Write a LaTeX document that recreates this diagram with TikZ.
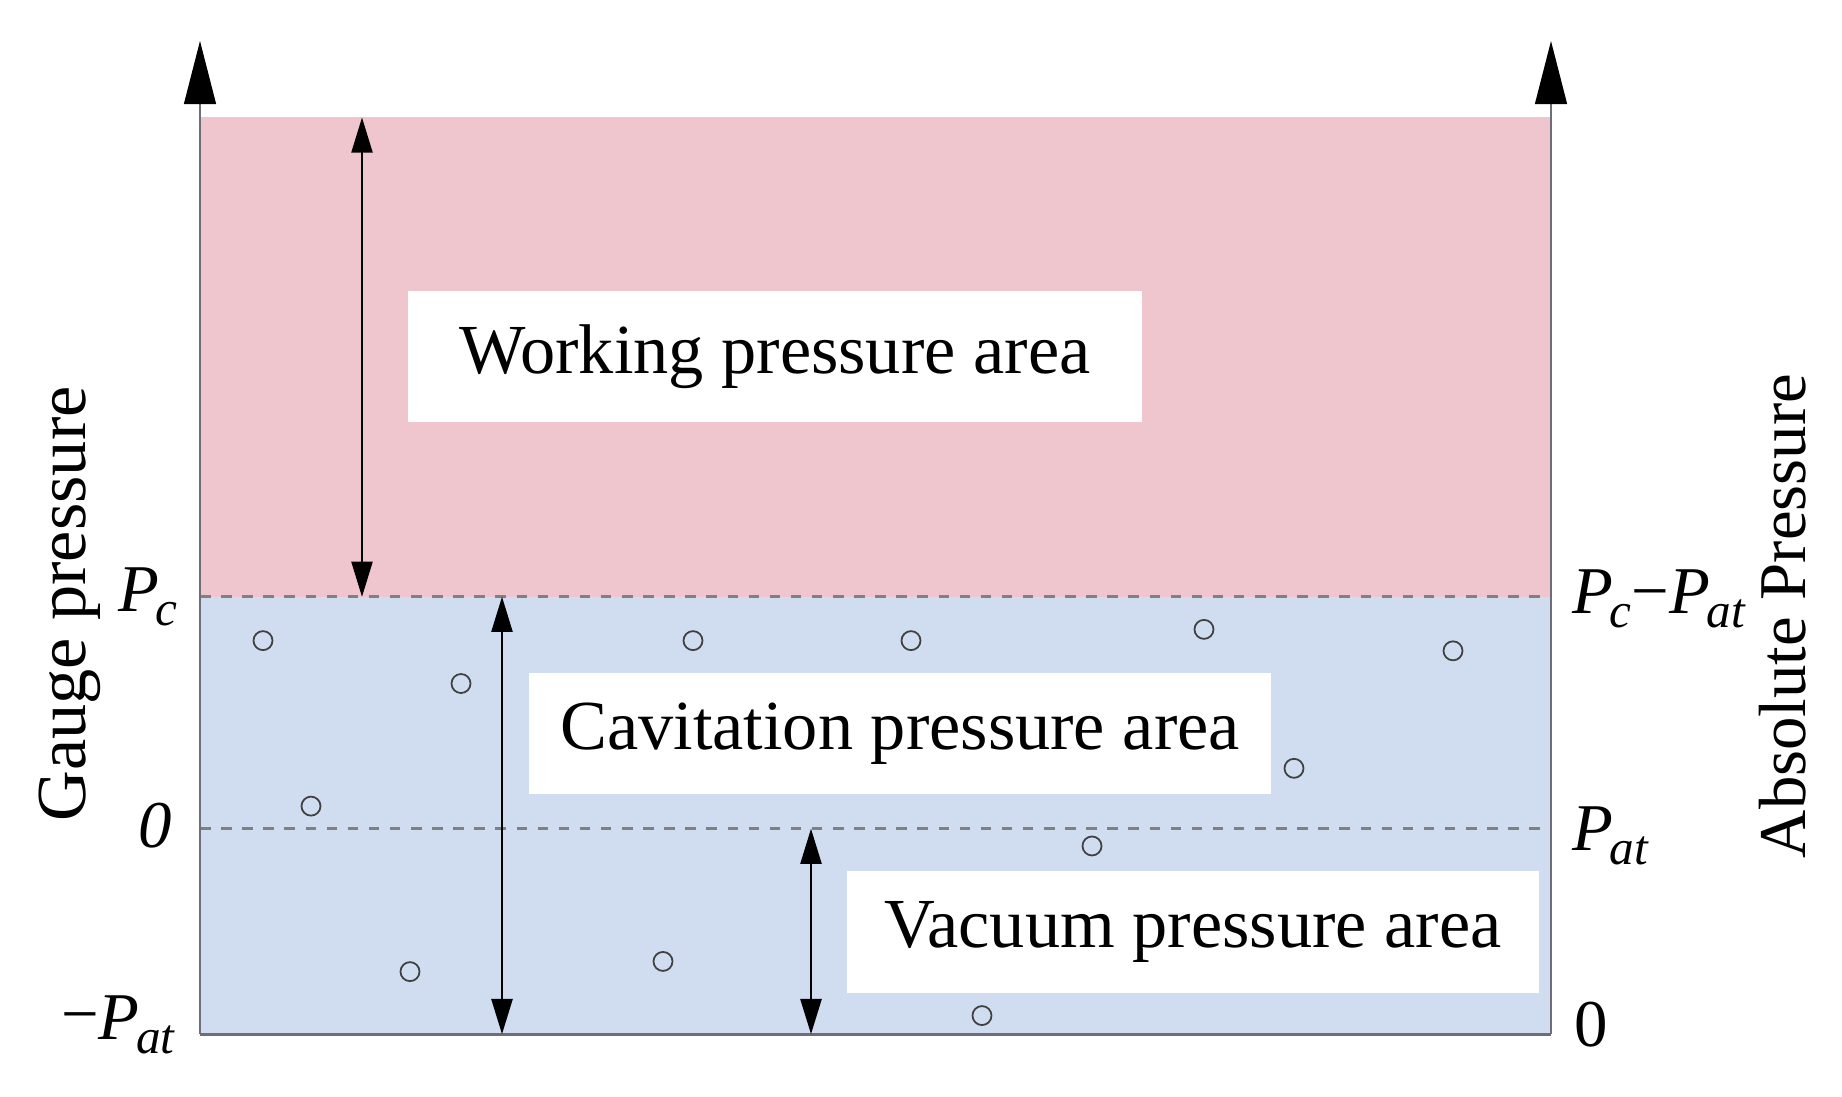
\documentclass[tikz,border=0pt]{standalone}
\usepackage{fontspec}
\setmainfont{Liberation Serif}
\usetikzlibrary{arrows.meta}
\definecolor{pinkf}{RGB}{240,198,206}
\definecolor{bluef}{RGB}{208,220,240}
\definecolor{axisg}{RGB}{110,110,120}
\newcommand{\Pv}[1]{\textit{P}\kern-0.05em\raisebox{-0.45ex}{\fontsize{14}{14}\selectfont\textit{#1}}}
\tikzset{
  lbl/.style={fill=white,inner sep=0pt,font=\fontsize{20}{22}\selectfont},
  dim/.style={{Triangle[length=10pt,width=6pt]}-{Triangle[length=10pt,width=6pt]},line width=0.6pt},
  bub/.style={circle,draw=black!75,line width=0.5pt,minimum size=0.19cm,inner sep=0pt},
  ax/.style={font=\fontsize{19}{22}\selectfont},
  dl/.style={gray,dashed,line width=1pt},
}
\begin{document}
\begin{tikzpicture}[x=0.01cm,y=-0.01cm]
\useasboundingbox (0,0) rectangle (1842,1097);
\begin{scope}[yscale=1.0217]
\fill[pinkf] (200,115) rectangle (1551,584);
\fill[bluef] (200,584) rectangle (1551,1012);
\draw[dl] (200,584) -- (1551,584);
\draw[dl] (200,811) -- (1551,811);
\coordinate (lb) at (200,1012); \coordinate (lt) at (200,40);
\coordinate (rb) at (1551,1012); \coordinate (rt) at (1551,40);
\draw[axisg,line width=0.8pt] (lb) -- (rb);
\draw[axisg,line width=0.8pt,-{Triangle[length=18pt,width=9pt,color=black]}] (lb) -- (lt);
\draw[axisg,line width=0.8pt,-{Triangle[length=18pt,width=9pt,color=black]}] (rb) -- (rt);
\node[lbl,minimum width=7.33cm,minimum height=1.31cm] (w) at (775,349) {Working pressure area};
\node[lbl,minimum width=7.42cm,minimum height=1.21cm] (c) at (900,718) {Cavitation pressure area};
\node[lbl,minimum width=6.91cm,minimum height=1.22cm] (v) at (1193,912) {Vacuum pressure area};
\coordinate (a1t) at (362,115); \coordinate (a1b) at (362,584);
\coordinate (a2t) at (502,584); \coordinate (a2b) at (502,1012);
\coordinate (a3t) at (811,811); \coordinate (a3b) at (811,1012);
\draw[dim] (a1t) -- (a1b);
\draw[dim] (a2t) -- (a2b);
\draw[dim] (a3t) -- (a3b);
\foreach \x/\y [count=\i] in {263/627,461/669,693/627,911/627,1204/616,1453/637,1294/752,311/789,1092/828,410/951,663/941,982/994}
  \node[bub] (b\i) at (\x,\y) {};
\node[ax,anchor=east] (pc) at (190,584) {\Pv{c}};
\node[ax,anchor=east] (z) at (184,808) {\itshape 0};
\node[ax,anchor=east] (mp) at (188,1003) {\raisebox{0.1ex}{\textminus}\Pv{at}};
\node[ax,anchor=west] (pcr) at (1560,586) {\Pv{c}\textminus\Pv{at}};
\node[ax,anchor=west] (par) at (1560,818) {\Pv{at}};
\node[ax,anchor=west] (zr) at (1562,1003) {0};
\end{scope}
\node[rotate=90,font=\fontsize{20}{22}\selectfont] (gp) at (70,604) {Gauge pressure};
\node[rotate=90,font=\fontsize{19}{22}\selectfont] (ap) at (1783,616) {Absolute Pressure};
\end{tikzpicture}
\end{document}
